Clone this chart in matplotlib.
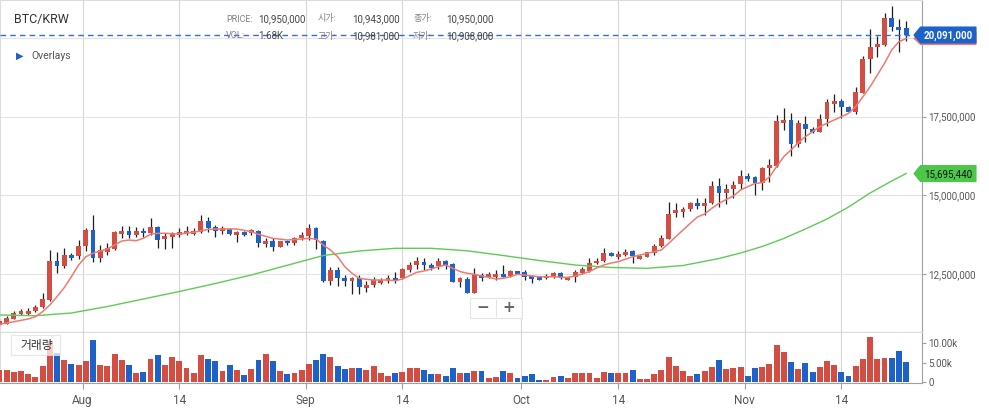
#!/usr/bin/env python3
# -*- coding: utf-8 -*-
"""
BTC/KRW 일봉 캔들차트 + 이동평균선 + 거래량 (2020-07-20 ~ 2020-11-23)
"""

import numpy as np
import pandas as pd
import matplotlib
matplotlib.use("Agg")
import matplotlib.pyplot as plt
from matplotlib.patches import Polygon, Rectangle
from matplotlib.transforms import IdentityTransform
from matplotlib.ticker import FuncFormatter

plt.rcParams["font.family"] = ["Roboto", "Noto Sans CJK KR", "DejaVu Sans"]
plt.rcParams["axes.unicode_minus"] = False

# ---- 데이터 (가격: 천원, 거래량: k) ----
dates = pd.date_range("2020-07-20", "2020-11-23", freq="D")

opens = [
    10891, 10933, 11091, 11240, 11250, 11336, 11462, 11685, 12922, 12763,
    13112, 13090, 13398, 13905, 13027, 13217, 13303, 13779, 13874, 13747,
    13874, 13820, 14001, 13610, 13693, 13747, 13801, 13779, 13852, 14200,
    13991, 13883, 13937, 13747, 13852, 13801, 13874, 13471, 13566, 13376,
    13566, 13484, 13661, 13725, 13959, 13556, 12297, 12636, 12392, 12297,
    12392, 12075, 12160, 12234, 12297, 12392, 12373, 12636, 12795, 12881,
    12795, 12763, 12922, 12817, 12265, 12351, 11916, 12478, 12424, 12424,
    12510, 12455, 12605, 12563, 12455, 12405, 12373, 12424, 12551, 12319,
    12405, 12532, 12614, 12849, 12931, 13185, 13058, 13122, 13230, 12990,
    13058, 13166, 13398, 13620, 14435, 14486, 14572, 14752, 14676, 14771,
    15301, 15070, 15197, 15355, 15619, 15577, 15387, 15882, 15945, 17310,
    17395, 16634, 17259, 17110, 17024, 17427, 17912, 17998, 17817, 17659,
    18261, 19331, 19721, 19775, 20641, 20336, 20305,
]
highs = [
    11082, 11187, 11336, 11399, 11440, 11526, 11897, 13271, 13217, 13325,
    13185, 13588, 13959, 14381, 13430, 13484, 13874, 14042, 14042, 14010,
    13959, 14277, 14042, 13801, 13852, 13959, 14032, 13978, 14381, 14327,
    14064, 14042, 13959, 13874, 13874, 13937, 13905, 13642, 13642, 13566,
    13588, 13674, 13832, 14096, 14010, 13588, 12741, 12741, 12478, 12424,
    12478, 12287, 12424, 12392, 12478, 12583, 12709, 12900, 13039, 13027,
    12849, 13008, 12954, 12849, 12424, 12414, 12690, 12532, 12563, 12636,
    12795, 12636, 12614, 12636, 12478, 12420, 12500, 12583, 12583, 12430,
    12636, 12741, 13008, 13008, 13325, 13217, 13249, 13293, 13271, 13112,
    13217, 13461, 13747, 14784, 14752, 14645, 14803, 14930, 14930, 15460,
    15546, 15355, 15470, 15809, 15704, 15619, 15914, 16148, 17554, 17767,
    17608, 17395, 17532, 17170, 17576, 18062, 18211, 18052, 17840, 18433,
    19435, 20282, 20070, 20780, 21012, 20590, 20536,
]
lows = [
    10860, 10914, 11072, 11199, 11209, 11313, 11440, 11660, 12532, 12690,
    12954, 12985, 13249, 12881, 12881, 13112, 13271, 13642, 13642, 13674,
    13693, 13747, 13325, 13293, 13344, 13693, 13747, 13747, 13820, 13832,
    13674, 13769, 13747, 13515, 13715, 13747, 13376, 13376, 13249, 13357,
    13430, 13430, 13588, 13588, 13293, 12265, 12160, 12129, 12129, 11875,
    11875, 11929, 12107, 12183, 12214, 12214, 12341, 12583, 12659, 12636,
    12636, 12668, 12659, 12250, 12107, 11900, 11900, 12297, 12373, 12319,
    12410, 12424, 12500, 12319, 12234, 12305, 12341, 12373, 12341, 12310,
    12265, 12510, 12583, 12827, 12900, 13081, 12990, 13090, 12868, 12976,
    13039, 13112, 13376, 13610, 14308, 14327, 14518, 14562, 14381, 14721,
    14626, 14730, 14911, 15197, 15460, 15016, 15175, 15438, 15914, 17078,
    16253, 16548, 16688, 16973, 17005, 17215, 17640, 17449, 17640, 17586,
    18242, 18877, 19385, 19753, 20219, 19543, 19911,
]
closes = [
    11018, 11123, 11282, 11345, 11340, 11472, 11716, 12922, 12763, 13112,
    13027, 13398, 13905, 13027, 13271, 13325, 13852, 13874, 13747, 13874,
    13801, 14001, 13598, 13715, 13801, 13852, 13874, 13874, 14200, 13978,
    13883, 13978, 13769, 13852, 13747, 13905, 13484, 13566, 13376, 13556,
    13484, 13661, 13747, 13959, 13588, 12297, 12636, 12373, 12297, 12392,
    12107, 12160, 12319, 12319, 12392, 12297, 12668, 12795, 12922, 12795,
    12690, 12922, 12795, 12265, 12373, 11916, 12500, 12392, 12510, 12510,
    12424, 12614, 12510, 12424, 12351, 12319, 12455, 12551, 12405, 12424,
    12583, 12659, 12868, 12931, 13185, 13090, 13144, 13198, 13081, 13090,
    13198, 13398, 13642, 14413, 14540, 14572, 14752, 14676, 14752, 15301,
    15070, 15206, 15333, 15619, 15533, 15387, 15882, 15968, 17364, 17395,
    16634, 17291, 17100, 17024, 17427, 17976, 17998, 17798, 17659, 18274,
    19331, 19702, 19807, 20641, 20355, 20251, 20091,
]
volumes = [
    3.0, 3.2, 2.5, 2.9, 2.2, 1.4, 4.2, 10.5, 7.5, 5.7,
    4.6, 4.4, 5.4, 10.7, 4.4, 4.2, 7.2, 5.7, 4.4, 2.3,
    2.7, 5.9, 6.9, 4.4, 6.4, 5.4, 3.7, 2.4, 6.9, 5.9,
    5.4, 2.9, 4.4, 3.2, 1.9, 3.4, 5.7, 7.2, 5.4, 2.9,
    2.1, 2.4, 3.2, 4.7, 5.7, 7.2, 6.5, 4.2, 3.4, 3.7,
    3.7, 3.0, 4.0, 2.4, 1.6, 2.3, 2.7, 3.7, 3.7, 3.2,
    2.1, 2.0, 1.6, 3.7, 2.3, 2.3, 2.9, 2.9, 1.1, 1.3,
    2.9, 2.3, 1.0, 1.6, 2.0, 0.6, 0.6, 1.3, 1.6, 1.1,
    2.3, 2.3, 2.3, 1.1, 2.6, 2.35, 2.35, 2.35, 3.1, 0.8,
    0.8, 2.1, 3.1, 6.4, 4.1, 2.85, 1.6, 2.1, 2.85, 3.9,
    5.6, 3.4, 3.6, 3.9, 1.6, 3.6, 3.9, 4.6, 9.4, 7.6,
    5.1, 3.4, 4.9, 2.6, 3.9, 5.4, 4.4, 2.6, 1.6, 4.1,
    5.9, 11.4, 5.9, 6.1, 6.1, 7.9, 5.1,
]

# 단기 이동평균 (빨간선) - 캔들 번호, 값(천원)
ma_short_idx = [
    0, 2, 4, 5, 6, 7, 8, 9, 10, 11, 12, 13, 14, 15, 16, 17, 18, 19, 20, 21, 22, 23,
    25, 27, 29, 31, 33, 35, 36, 38, 40, 42, 43, 44,
] + list(range(45, 87)) + [88, 90, 92] + list(range(93, 127))
ma_short = [
    10914, 10996, 11082, 11155, 11313, 11526, 11789, 12075, 12424, 12795, 13058,
    13166, 13239, 13303, 13430, 13556, 13588, 13566, 13642, 13769, 13801, 13801,
    13779, 13832, 13927, 13937, 13937, 13852, 13769, 13642, 13588, 13620, 13642, 13620,
    13430, 13271, 13058, 12741, 12532, 12373, 12341, 12319, 12319, 12319, 12297,
    12351, 12455, 12563, 12605, 12668, 12741, 12795, 12690, 12589, 12532, 12500,
    12446, 12405, 12351, 12373, 12424, 12500, 12478, 12446, 12424, 12424, 12424,
    12405, 12405, 12446, 12510, 12589, 12700, 12795, 12858, 12900,
    13058, 13166, 13271,
    13483, 13693, 13905, 14118, 14318, 14413, 14594, 14752, 14873, 14984, 15175,
    15279, 15381, 15406, 15587, 15914, 16231, 16444, 16675, 16865, 17024, 17183,
    17291, 17395, 17500, 17608, 17817, 18135, 18452, 18823, 19194, 19616, 19879,
    19981,
]
# 장기 이동평균 (초록선)
ma_long_idx = [0, 5, 10, 15, 20, 25, 30, 35, 40, 45, 50, 55, 60, 65, 70, 75, 80,
               85, 90, 95, 100, 103, 106, 109, 112, 115, 118, 121, 124, 126]
ma_long = [11209, 11187, 11272, 11478, 11716, 11954, 12208, 12478, 12786, 13096,
           13239, 13325, 13325, 13246, 13096, 12938, 12795, 12716, 12690, 12779,
           13001, 13176, 13382, 13636, 13937, 14254, 14635, 15079, 15460, 15695.44]
assert len(ma_short_idx) == len(ma_short)
assert len(ma_long_idx) == len(ma_long)

tick_days = ["2020-08-01", "2020-08-14", "2020-09-01", "2020-09-14",
             "2020-10-01", "2020-10-14", "2020-11-01", "2020-11-14"]
tick_labels = ["Aug", "14", "Sep", "14", "Oct", "14", "Nov", "14"]

# ---- 스타일 ----
RED = "#d44d42"
BLUE = "#1c62c9"
WICK = "#1e1e1e"
MA_RED = "#ef7a70"
MA_GREEN = "#5fcb55"
GRID = "#e4e4e4"
VGRID = "#d6d6d6"
TXT = "#555555"

W, H = 989, 411
PLOT_R, PRICE_B, VOL_B = 921.5, 331.7, 383.3


def fx(x):
    return x / W


def fy(y):
    return 1 - y / H


fig = plt.figure(figsize=(W / 100, H / 100), dpi=100)
fig.patch.set_facecolor("white")
ax = fig.add_axes([0, fy(PRICE_B), fx(PLOT_R), PRICE_B / H])
axv = fig.add_axes([0, fy(VOL_B), fx(PLOT_R), (VOL_B - PRICE_B) / H], sharex=ax)

x = np.arange(len(dates))
o, h, l, c = (np.asarray(v, dtype=float) * 1000 for v in (opens, highs, lows, closes))
up = c >= o
cols = np.where(up, RED, BLUE)

# 캔들
ax.vlines(x, l, h, color=WICK, lw=0.9, zorder=3)
body = np.maximum(np.abs(c - o), 45000)
ax.bar(x, body, bottom=np.minimum(o, c), width=0.68, color=cols, lw=0, zorder=4)

# 이동평균선
ax.plot(ma_long_idx, np.array(ma_long) * 1000, color=MA_GREEN, lw=1.0, zorder=5)
ax.plot(ma_short_idx, np.array(ma_short) * 1000, color=MA_RED, lw=1.1, zorder=5)

# 현재가 점선
last = c[-1]
ax.axhline(last, color="#2f6fd8", lw=1.0, ls=(0, (4, 3)), zorder=6)

# 거래량
axv.bar(x, np.array(volumes) * 1000, width=0.82, color=cols, lw=0, zorder=3)

# 축 설정
ax.set_xlim(0.08, 128.14)
ax.set_ylim(10.679e6, 21.202e6)
axv.set_ylim(-250, 12780)

tick_pos = []
for d in tick_days:
    ts = pd.Timestamp(d)
    i = dates.get_loc(ts)
    tick_pos.append(i - 0.45 if ts.day == 1 else i)

for a in (ax, axv):
    for t in tick_pos:
        a.axvline(t, color=VGRID, lw=0.8, zorder=0)
    a.set_facecolor("white")
    for s in ("left", "top"):
        a.spines[s].set_color("#dddddd")
    for s in ("right", "bottom"):
        a.spines[s].set_color("#a0a0a0")
    a.yaxis.tick_right()
    a.tick_params(axis="y", direction="out", length=3, color="#a0a0a0",
                  labelsize=7, labelcolor=TXT, pad=2)

# 20,000,000 눈금은 현재가 태그 뒤에 가려짐 -> 라벨 생략
ax.set_yticks([12.5e6, 15e6, 17.5e6, 20e6])
ax.yaxis.set_major_formatter(FuncFormatter(lambda v, p: "" if v >= 20e6 else f"{v:,.0f}"))
ax.grid(axis="y", color=GRID, lw=0.8, zorder=0)
ax.tick_params(axis="x", bottom=False, labelbottom=False)

axv.set_yticks([0, 5000, 10000])
axv.yaxis.set_major_formatter(FuncFormatter(lambda v, p: "0" if v == 0 else f"{v / 1000:.2f}k"))
axv.set_xticks(tick_pos)
axv.set_xticklabels(tick_labels)
axv.tick_params(axis="x", direction="out", length=4, color="#a0a0a0",
                labelsize=8.5, labelcolor=TXT, pad=4)


# ---- 우측 가격 태그 ----
def price_tag(value, text, fc, tcolor, weight="normal", z=10, hh=8):
    _, yp = ax.transData.transform((0, value))
    xp = ax.transAxes.transform((1, 0))[0]
    pts = [(xp - 7.5, yp), (xp - 1, yp + hh), (xp + 54.5, yp + hh),
           (xp + 54.5, yp - hh), (xp - 1, yp - hh)]
    fig.add_artist(Polygon(pts, closed=True, fc=fc, ec=fc, lw=0.8,
                           joinstyle="round", transform=IdentityTransform(), zorder=z))
    if text:
        fig.text(xp + 27, yp - 0.5, text, transform=IdentityTransform(), ha="center",
                 va="center", fontsize=7, color=tcolor, fontweight=weight, zorder=z + 1)


price_tag(ma_short[-1] * 1000, "", MA_RED, "white", z=8, hh=6)
price_tag(last, f"{last:,.0f}", BLUE, "white", "bold", z=10)
price_tag(ma_long[-1] * 1000, f"{ma_long[-1] * 1000:,.0f}", "#4cc74a", "#111111", z=10)

# ---- 상단 헤더 ----
fig.text(fx(14), fy(20), "BTC/KRW", fontsize=9, color="#333333", va="center", ha="left")
rows = [
    [("PRICE:", 226, 19), ("10,950,000", 258, 19), ("시가:", 318, 19),
     ("10,943,000", 352, 19), ("종가:", 413, 19), ("10,950,000", 446, 19)],
    [("VOL:", 226, 36), ("1.68K", 258, 36), ("고가:", 318, 36),
     ("10,981,000", 352, 36), ("저가:", 413, 36), ("10,908,000", 446, 36)],
]
for row in rows:
    for k, (s, xx, yy) in enumerate(row):
        lab = k % 2 == 0
        fig.text(fx(xx), fy(yy), s, fontsize=6.5 if lab else 7,
                 color="#808080" if lab else "#444444", va="center", ha="left")

fig.text(fx(16), fy(56), "\u25B6", fontsize=7, color=BLUE, va="center", ha="left",
         family="DejaVu Sans")
fig.text(fx(31), fy(56), "Overlays", fontsize=7.5, color=TXT, va="center", ha="left")

# 거래량 라벨 박스
fig.add_artist(Rectangle((fx(11), fy(355)), fx(49), 20 / H, transform=fig.transFigure,
                         fc="white", ec="#dedede", lw=0.8, alpha=0.75, zorder=5))
fig.text(fx(20), fy(345), "거래량", fontsize=8.5, color="#333333", va="center",
         ha="left", zorder=6)

# 줌 버튼
fig.add_artist(Rectangle((fx(470), fy(318)), fx(52), 20 / H, transform=fig.transFigure,
                         fc="white", ec="#e2e2e2", lw=0.8, alpha=0.9, zorder=5))
fig.add_artist(plt.Line2D([fx(496), fx(496)], [fy(316), fy(300)], color="#e2e2e2",
                          lw=0.8, transform=fig.transFigure, zorder=6))
fig.text(fx(483), fy(308), "\u2212", fontsize=11, color="#666666", ha="center",
         va="center", family="DejaVu Sans", fontweight="bold", zorder=6)
fig.text(fx(509), fy(308), "+", fontsize=11, color="#666666", ha="center",
         va="center", family="DejaVu Sans", fontweight="bold", zorder=6)

fig.savefig("out.png", dpi=100, facecolor="white")
